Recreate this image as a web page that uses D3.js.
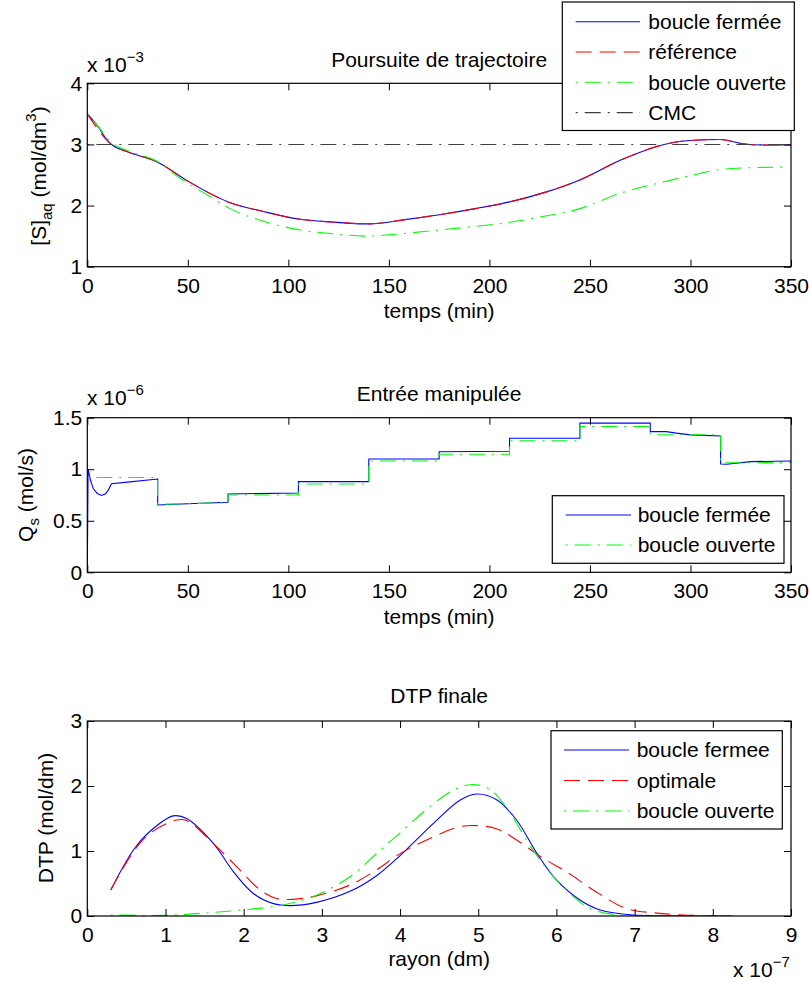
<!DOCTYPE html>
<html><head><meta charset="utf-8">
<script src="https://cdn.jsdelivr.net/npm/d3@7"></script>
<style>
html,body{margin:0;padding:0;background:#fff;}
text{font-family:"Liberation Sans",Arial,Helvetica,sans-serif;fill:#000;}
</style></head>
<body><svg id="c" width="809" height="982"></svg>
<script>
// ---------- Data: Poursuite de trajectoire (x 1e-3 mol/dm3) ----------
const fermeT = [0, 3, 6, 9, 12, 20, 35, 50, 70, 88, 105, 122, 140, 158, 175, 193, 210, 228, 245, 265, 287, 298, 315, 326, 335, 350];
const fermeV = [3.50, 3.39, 3.26, 3.11, 3.00, 2.88, 2.71, 2.40, 2.06, 1.90, 1.78, 1.73, 1.70, 1.77, 1.85, 1.95, 2.06, 2.22, 2.42, 2.74, 3.00, 3.06, 3.08, 3.01, 2.99, 2.99];
const refT = [0, 12, 20, 35, 50, 70, 88, 105, 122, 140, 158, 175, 193, 210, 228, 245, 265, 287, 298, 315, 326, 335, 350];
const refV = [3.50, 3.00, 2.88, 2.71, 2.40, 2.06, 1.90, 1.78, 1.73, 1.70, 1.77, 1.85, 1.95, 2.06, 2.22, 2.42, 2.74, 3.00, 3.06, 3.08, 3.01, 2.99, 2.99];
const ouvT = [0, 5, 12, 20, 35, 46, 60, 71, 88, 106, 122, 139, 156, 175, 193, 211, 228, 245, 265, 287, 300, 315, 330, 348];
const ouvV = [3.50, 3.31, 3.03, 2.90, 2.72, 2.45, 2.17, 1.95, 1.74, 1.60, 1.54, 1.50, 1.54, 1.60, 1.66, 1.73, 1.83, 1.95, 2.20, 2.39, 2.49, 2.59, 2.62, 2.63];
const cmcT = [0, 350];
const cmcV = [3.0, 3.0];

// ---------- Data: Entrée manipulée (x 1e-6 mol/s) ----------
const fermeQT = [0, 0.4, 1.5, 3, 5, 7, 9, 10.5, 12, 20, 35, 35, 50, 70, 70, 105, 105, 140, 140, 175, 175, 210, 210, 245, 245, 280, 280, 288, 293, 300, 315, 315, 318, 330, 350];
const fermeQV = [0, 1.0, 0.90, 0.81, 0.765, 0.745, 0.76, 0.80, 0.86, 0.875, 0.905, 0.653, 0.665, 0.68, 0.76, 0.77, 0.88, 0.88, 1.10, 1.10, 1.17, 1.175, 1.30, 1.30, 1.447, 1.447, 1.365, 1.365, 1.35, 1.333, 1.323, 1.051, 1.048, 1.074, 1.08];
const ouvQT = [0, 35, 35, 70, 70, 105, 105, 140, 140, 175, 175, 210, 210, 245, 245, 280, 280, 315, 315, 350];
const ouvQV = [0.92, 0.92, 0.66, 0.675, 0.75, 0.75, 0.857, 0.857, 1.08, 1.08, 1.146, 1.146, 1.277, 1.277, 1.414, 1.414, 1.335, 1.335, 1.062, 1.065];

// ---------- Data: DTP finale (rayon x 1e-7 dm) ----------
const fermeR = [0.30, 0.59, 0.80, 1.10, 1.27, 1.61, 1.87, 2.12, 2.38, 2.59, 2.93, 3.36, 3.70, 4.00, 4.43, 4.77, 4.98, 5.24, 5.49, 5.75, 6.00, 6.30, 6.56, 6.98, 7.50, 8.25];
const fermeD = [0.40, 1.015, 1.30, 1.54, 1.50, 1.12, 0.68, 0.35, 0.19, 0.16, 0.21, 0.38, 0.62, 0.93, 1.43, 1.785, 1.877, 1.785, 1.477, 0.964, 0.554, 0.246, 0.092, 0.015, 0.002, 0];
const optR = [0.30, 0.59, 0.80, 1.14, 1.27, 1.65, 1.95, 2.21, 2.42, 2.63, 2.93, 3.36, 3.70, 4.00, 4.43, 4.77, 4.98, 5.24, 5.49, 5.83, 6.13, 6.47, 6.89, 7.32, 7.62, 8.25];
const optD = [0.40, 0.99, 1.27, 1.477, 1.47, 1.07, 0.71, 0.40, 0.27, 0.256, 0.31, 0.477, 0.71, 0.96, 1.22, 1.374, 1.39, 1.34, 1.17, 0.887, 0.68, 0.40, 0.118, 0.041, 0.015, 0];
const ouvR = [0.30, 1.00, 1.44, 1.95, 2.51, 2.93, 3.36, 3.70, 4.00, 4.43, 4.72, 4.90, 5.05, 5.19, 5.41, 5.70, 6.00, 6.39, 6.64, 6.98, 7.50, 8.25];
const ouvD = [0.015, 0.01, 0.04, 0.09, 0.17, 0.32, 0.605, 0.96, 1.28, 1.73, 1.96, 2.02, 2.00, 1.91, 1.58, 1.015, 0.554, 0.14, 0.04, 0.005, 0, 0];

// ---------- Ticks ----------
const timeTicks = [0, 50, 100, 150, 200, 250, 300, 350];
const topYTicks = [1, 2, 3, 4];
const midYTicks = [0, 0.5, 1, 1.5];
const midYLabels = ["0", "0.5", "1", "1.5"];
const botXTicks = [0, 1, 2, 3, 4, 5, 6, 7, 8, 9];
const botYTicks = [0, 1, 2, 3];

// ---------- Styles ----------
const BLUE = "#0000ff", RED = "#ff0000", GREEN = "#00ff00", GREY = "#404040";
const DASH = "16,8", DASHDOT = "2,7,16,7";
const FS = 21;

const svg = d3.select("#c");
svg.append("rect").attr("width", 809).attr("height", 982).attr("fill", "#fff");

const L = 87.3, R = 791;

function makePanel(o) {
  const x = d3.scaleLinear().domain(o.xd).range([L, R]);
  const y = d3.scaleLinear().domain(o.yd).range([o.bottom, o.top]);
  const g = svg.append("g");
  const clipId = "clip" + Math.round(o.top);
  svg.append("clipPath").attr("id", clipId).append("rect")
    .attr("x", L).attr("y", o.top).attr("width", R - L).attr("height", o.bottom - o.top);
  const lines = g.append("g").attr("clip-path", `url(#${clipId})`);
  o.series.forEach(s => {
    const pts = s.xs.map((v, i) => [v, s.ys[i]]);
    const gen = d3.line().x(d => x(d[0])).y(d => y(d[1])).curve(s.curve || d3.curveLinear);
    lines.append("path").attr("d", gen(pts)).attr("fill", "none")
      .attr("stroke", s.color).attr("stroke-width", 1.1)
      .attr("stroke-dasharray", s.dash || null);
  });
  const ax = (axis, tr) => g.append("g").attr("transform", tr).call(axis)
    .call(a => a.select(".domain").remove())
    .call(a => a.selectAll("line").attr("stroke", "#000"))
    .call(a => a.selectAll("text").attr("font-size", FS).attr("font-family", null).attr("fill", "#000"));
  ax(d3.axisBottom(x).tickValues(o.xt).tickFormat(d3.format("")).tickSize(-7).tickPadding(11), `translate(0,${o.bottom})`);
  ax(d3.axisTop(x).tickValues(o.xt).tickFormat("").tickSize(-7), `translate(0,${o.top})`);
  ax(d3.axisLeft(y).tickValues(o.yt).tickFormat((d, i) => o.yl ? o.yl[i] : d).tickSize(-7).tickPadding(5), `translate(${L},0)`);
  ax(d3.axisRight(y).tickValues(o.yt).tickFormat("").tickSize(-7), `translate(${R},0)`);
  g.append("rect").attr("x", L).attr("y", o.top).attr("width", R - L).attr("height", o.bottom - o.top)
    .attr("fill", "none").attr("stroke", "#000").attr("stroke-width", 1.2);
  g.append("text").attr("x", (L + R) / 2).attr("y", o.titleY).attr("text-anchor", "middle")
    .attr("font-size", FS).text(o.title);
  return { x, y, g };
}

function sup(sel, base, exp) {
  sel.append("tspan").text(base);
  sel.append("tspan").attr("dy", -10).attr("font-size", 15).text(exp);
}

function legend(o) {
  const g = svg.append("g");
  g.append("rect").attr("x", o.x0).attr("y", o.y0).attr("width", o.x1 - o.x0).attr("height", o.y1 - o.y0)
    .attr("fill", "#fff").attr("stroke", "#000").attr("stroke-width", 1.2);
  o.items.forEach((it, i) => {
    const yy = o.first + i * o.step;
    g.append("line").attr("x1", o.l0).attr("x2", o.l1).attr("y1", yy).attr("y2", yy)
      .attr("stroke", it.color).attr("stroke-width", 1.1).attr("stroke-dasharray", it.dash || null);
    g.append("text").attr("x", o.tx).attr("y", yy).attr("dy", "0.35em").attr("font-size", FS).text(it.label);
  });
}

const smooth = d3.curveCatmullRom.alpha(0.5);

// ---------- Panel 1 ----------
makePanel({
  xd: [0, 350], yd: [1, 4], top: 83.3, bottom: 266.7, xt: timeTicks, yt: topYTicks,
  title: "Poursuite de trajectoire", titleY: 67,
  series: [
    { xs: fermeT, ys: fermeV, color: BLUE, curve: d3.curveMonotoneX },
    { xs: refT, ys: refV, color: RED, dash: DASH, curve: d3.curveMonotoneX },
    { xs: ouvT, ys: ouvV, color: GREEN, dash: DASHDOT, curve: d3.curveMonotoneX },
    { xs: cmcT, ys: cmcV, color: GREY, dash: DASHDOT }
  ]
});
sup(svg.append("text").attr("x", 87).attr("y", 72).attr("font-size", FS), "x 10", "\u22123");
svg.append("text").attr("x", (L + R) / 2).attr("y", 318).attr("text-anchor", "middle").attr("font-size", FS).text("temps (min)");
{
  const t = svg.append("text").attr("transform", "translate(46,176) rotate(-90)").attr("text-anchor", "middle").attr("font-size", FS);
  t.append("tspan").text("[S]");
  t.append("tspan").attr("dy", 6).attr("font-size", 15).text("aq");
  t.append("tspan").attr("dy", -6).text(" (mol/dm");
  t.append("tspan").attr("dy", -10).attr("font-size", 15).text("3");
  t.append("tspan").attr("dy", 10).text(")");
}
legend({
  x0: 562.3, x1: 794.3, y0: 2, y1: 130.5, first: 21.7, step: 30.3, l0: 575.7, l1: 640, tx: 648.3,
  items: [
    { label: "boucle fermée", color: BLUE },
    { label: "référence", color: RED, dash: DASH },
    { label: "boucle ouverte", color: GREEN, dash: DASHDOT },
    { label: "CMC", color: GREY, dash: DASHDOT }
  ]
});

// ---------- Panel 2 ----------
makePanel({
  xd: [0, 350], yd: [0, 1.5], top: 417.7, bottom: 572.3, xt: timeTicks, yt: midYTicks, yl: midYLabels,
  title: "Entrée manipulée", titleY: 401,
  series: [
    { xs: fermeQT, ys: fermeQV, color: BLUE },
    { xs: ouvQT, ys: ouvQV, color: GREEN, dash: DASHDOT }
  ]
});
sup(svg.append("text").attr("x", 87).attr("y", 405).attr("font-size", FS), "x 10", "\u22126");
svg.append("text").attr("x", (L + R) / 2).attr("y", 623.6).attr("text-anchor", "middle").attr("font-size", FS).text("temps (min)");
{
  const t = svg.append("text").attr("transform", "translate(33,495) rotate(-90)").attr("text-anchor", "middle").attr("font-size", FS);
  t.append("tspan").text("Q");
  t.append("tspan").attr("dy", 6).attr("font-size", 15).text("s");
  t.append("tspan").attr("dy", -6).text(" (mol/s)");
}
legend({
  x0: 552.3, x1: 784, y0: 495.7, y1: 563.3, first: 515, step: 30, l0: 565.7, l1: 631, tx: 637.7,
  items: [
    { label: "boucle fermée", color: BLUE },
    { label: "boucle ouverte", color: GREEN, dash: DASHDOT }
  ]
});

// ---------- Panel 3 ----------
makePanel({
  xd: [0, 9], yd: [0, 3], top: 721, bottom: 916, xt: botXTicks, yt: botYTicks,
  title: "DTP finale", titleY: 703,
  series: [
    { xs: fermeR, ys: fermeD, color: BLUE, curve: smooth },
    { xs: optR, ys: optD, color: RED, dash: DASH, curve: smooth },
    { xs: ouvR, ys: ouvD, color: GREEN, dash: DASHDOT, curve: smooth }
  ]
});
svg.append("text").attr("x", (L + R) / 2).attr("y", 966).attr("text-anchor", "middle").attr("font-size", FS).text("rayon (dm)");
sup(svg.append("text").attr("x", 733).attr("y", 977).attr("font-size", FS), "x 10", "\u22127");
svg.append("text").attr("transform", "translate(53,818) rotate(-90)").attr("text-anchor", "middle").attr("font-size", FS).text("DTP (mol/dm)");
legend({
  x0: 551, x1: 782.3, y0: 730.7, y1: 829, first: 750, step: 30.5, l0: 564, l1: 629, tx: 636.7,
  items: [
    { label: "boucle fermee", color: BLUE },
    { label: "optimale", color: RED, dash: DASH },
    { label: "boucle ouverte", color: GREEN, dash: DASHDOT }
  ]
});
</script></body></html>
